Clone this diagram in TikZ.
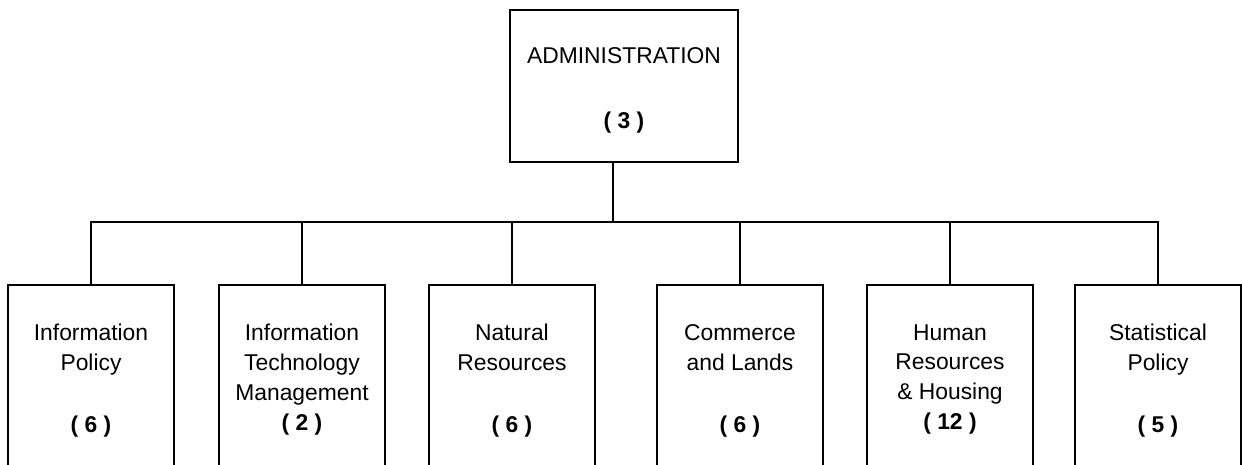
\documentclass[tikz,border=0pt]{standalone}
\usepackage{fontspec}
\setmainfont{Liberation Sans}

\newcommand{\staff}[1]{\textbf{( #1 )}}

\begin{document}
\begin{tikzpicture}[x=0.02cm,y=-0.02cm,
    orgfont/.style={font=\fontsize{13}{17}\selectfont},
    headbox/.style={draw,line width=1pt,orgfont,align=center,
        minimum width=4.56cm,minimum height=3.04cm,inner sep=0pt},
    unitbox/.style={draw,line width=1pt,minimum width=3.32cm,
        minimum height=3.66cm,inner sep=0pt},
    unittext/.style={orgfont,align=center,anchor=north,inner sep=0pt},
    link/.style={line width=0.8pt}]
    \useasboundingbox (0,0) rectangle (1242,464);
    \clip (0,0) rectangle (1242,464);

    % top office
    \node[headbox] (admin) at (624,86) {\rule{0pt}{0.49cm}ADMINISTRATION\\[0.7cm]\staff{3}};
    \coordinate (bus) at (613,222);

    % branches
    \node[unitbox] (infopol) at (91,376.5) {};
    \node[unitbox] (itm) at (302,376.5) {};
    \node[unitbox] (natres) at (512,376.5) {};
    \node[unitbox] (comlands) at (740,376.5) {};
    \node[unitbox] (hrhous) at (950,376.5) {};
    \node[unitbox] (statpol) at (1158,376.5) {};

    \node[unittext] (infopoltxt) at (91,324) {Information\\Policy\\[0.64cm]\staff{6}};
    \node[unittext] (itmtxt) at (302,324) {Information\\Technology\\Management\\\staff{2}};
    \node[unittext] (natrestxt) at (512,324) {Natural\\Resources\\[0.64cm]\staff{6}};
    \node[unittext] (comlandstxt) at (740,324) {Commerce\\and Lands\\[0.64cm]\staff{6}};
    \node[unittext] (hrhoustxt) at (950,324) {Human\\Resources\\\& Housing\\\staff{12}};
    \node[unittext] (statpoltxt) at (1158,324) {Statistical\\Policy\\[0.64cm]\staff{5}};

    % connectors
    \draw[link] (admin.south -| bus) -- (bus);
    \foreach \unit in {infopol,itm,natres,comlands,hrhous,statpol}
        \draw[link] (bus) -| (\unit.north);
\end{tikzpicture}
\end{document}
